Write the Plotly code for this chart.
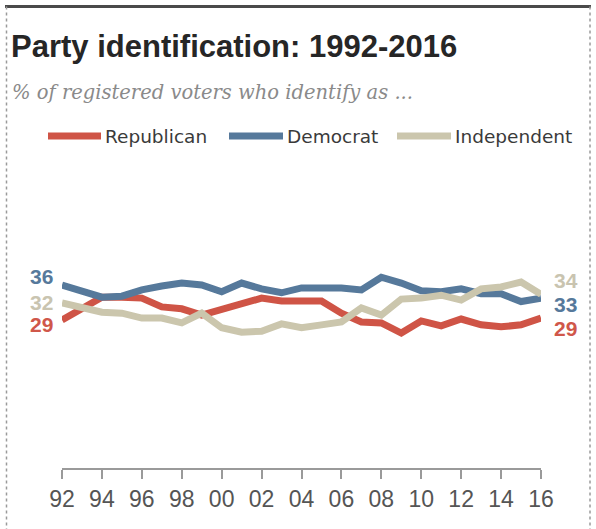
import plotly.graph_objects as go

years = list(range(1992, 2017))
republican = [28.8, 31.3, 33.5, 33.5, 33.3, 31.5, 31.1, 29.8, 30.9, 32.1, 33.3, 32.7, 32.7, 32.7,
              30.2, 28.4, 28.2, 26.1, 28.6, 27.6, 29.0, 27.8, 27.4, 27.8, 29.2]
democrat = [36.0, 34.8, 33.5, 33.7, 35.0, 35.8, 36.4, 36.0, 34.6, 36.4, 35.2, 34.4, 35.4, 35.4,
            35.4, 35.0, 37.6, 36.4, 34.8, 34.6, 35.2, 34.2, 34.2, 32.6, 33.3]
independent = [32.3, 31.3, 30.4, 30.2, 29.2, 29.2, 28.2, 30.2, 27.2, 26.3, 26.5, 28.0, 27.2, 27.8,
               28.4, 31.3, 29.8, 33.1, 33.3, 33.9, 32.9, 35.2, 35.6, 36.6, 34.1]
tick_years = list(range(1992, 2017, 2))
tick_text = ["92", "94", "96", "98", "00", "02", "04", "06", "08", "10", "12", "14", "16"]
start_labels = ["29", "36", "32"]
end_labels = ["29", "33", "34"]
names = ["Republican", "Democrat", "Independent"]
colors = ["#cf5446", "#56799b", "#cbc6ad"]
label_colors = ["#d0574a", "#56799b", "#c9c4b0"]

W, H = 596, 529
L, R, T, B = 62, 541, 150, 468


def px(x):
    return (x - L) / (R - L)


def py(y):
    return (B - y) / (B - T)


fig = go.Figure()
series = [republican, democrat, independent]
for name, vals, c in zip(names, series, colors):
    fig.add_trace(go.Scatter(x=years, y=vals, mode="lines", name=name,
                             line=dict(color=c, width=7), showlegend=False,
                             hoverinfo="x+y"))

ann = []
ann.append(dict(text="<b>Party identification: 1992-2016</b>", x=px(9), y=py(47),
                xref="paper", yref="paper", xanchor="left", yanchor="middle", showarrow=False,
                font=dict(family="Liberation Sans, Arial", size=31, color="#262626")))
ann.append(dict(text="<i>% of registered voters who identify as ...</i>", x=px(10), y=py(93),
                xref="paper", yref="paper", xanchor="left", yanchor="middle", showarrow=False,
                font=dict(family="DejaVu Serif", size=19.5, color="#8a8a8a")))

# legend (manual)
leg_x = [(48, 101), (229, 283), (397, 451)]
shapes = []
for (x0, x1), name, c in zip(leg_x, names, colors):
    shapes.append(dict(type="line", xref="paper", yref="paper", x0=px(x0), x1=px(x1),
                       y0=py(136), y1=py(136), line=dict(color=c, width=7)))
    ann.append(dict(text=name, x=px(x1 + 2), y=py(136), xref="paper", yref="paper",
                    xanchor="left", yanchor="middle", showarrow=False,
                    font=dict(family="DejaVu Sans", size=18.5, color="#3a3a3a")))

# end labels
left_y = [324, 276, 302]
right_y = [328, 304, 280]
for i in range(3):
    ann.append(dict(text="<b>" + start_labels[i] + "</b>", x=years[0], y=py(left_y[i]),
                    xref="x", yref="paper", xanchor="right", yanchor="middle", xshift=-7,
                    showarrow=False,
                    font=dict(family="Liberation Sans, Arial", size=21, color=label_colors[i])))
    ann.append(dict(text="<b>" + end_labels[i] + "</b>", x=years[-1], y=py(right_y[i]),
                    xref="x", yref="paper", xanchor="left", yanchor="middle", xshift=11,
                    showarrow=False,
                    font=dict(family="Liberation Sans, Arial", size=21, color=label_colors[i])))

# frame
shapes.append(dict(type="line", xref="paper", yref="paper", x0=px(5), x1=px(591),
                   y0=py(6.5), y1=py(6.5), line=dict(color="#4a4a4a", width=3)))
for xx in (6.5, 590):
    shapes.append(dict(type="line", xref="paper", yref="paper", x0=px(xx), x1=px(xx),
                       y0=py(6.5), y1=py(529), line=dict(color="#9a9a9a", width=1.5, dash="dot")))

fig.update_layout(
    width=W, height=H,
    margin=dict(l=L, r=W - R, t=T, b=H - B, pad=0),
    paper_bgcolor="white", plot_bgcolor="white",
    annotations=ann, shapes=shapes,
    xaxis=dict(range=[1992, 2016], tickvals=tick_years, ticktext=tick_text,
               showgrid=False, zeroline=False, showline=True, linecolor="#9a9a9a",
               linewidth=2, ticks="outside", ticklen=9, tickwidth=1.5, tickcolor="#9a9a9a",
               tickfont=dict(family="Liberation Sans, Arial", size=23, color="#555555"),
               fixedrange=True),
    yaxis=dict(range=[36 - (B - 285) / 4.86, 36 + (285 - T) / 4.86], visible=False,
               showgrid=False, zeroline=False, fixedrange=True),
)

fig.write_html("out.html")
